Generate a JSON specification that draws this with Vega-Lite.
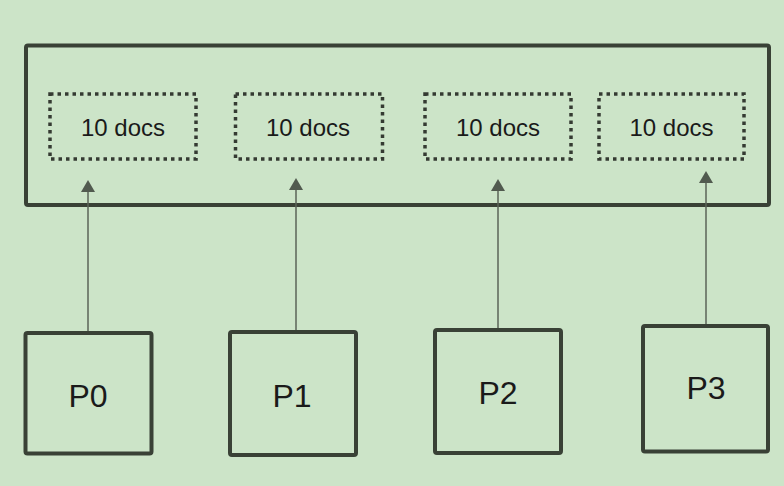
{
  "$schema": "https://vega.github.io/schema/vega-lite/v6.json",
  "description": "Four partitions each sending 10 docs into one result set",
  "width": 784,
  "height": 486,
  "autosize": {"type": "none"},
  "padding": 0,
  "background": "#cce4c8",
  "config": {"view": {"stroke": null}},
  "datasets": {
    "outer": [{"x": 26, "x2": 769, "y": 45.5, "y2": 205}],
    "slots": [
      {"x": 50, "x2": 196, "y": 94, "y2": 159, "cx": 123, "label": "10 docs"},
      {"x": 235.5, "x2": 382.5, "y": 94, "y2": 159, "cx": 308, "label": "10 docs"},
      {"x": 425, "x2": 571, "y": 94, "y2": 159, "cx": 498, "label": "10 docs"},
      {"x": 599, "x2": 744, "y": 94, "y2": 159, "cx": 671.5, "label": "10 docs"}
    ],
    "parts": [
      {"x": 25.5, "x2": 151.5, "y": 333, "y2": 453.5, "cx": 88, "base": 407, "label": "P0"},
      {"x": 230, "x2": 356, "y": 332, "y2": 455, "cx": 292, "base": 407, "label": "P1"},
      {"x": 435, "x2": 561, "y": 330, "y2": 453, "cx": 498, "base": 404, "label": "P2"},
      {"x": 643, "x2": 768, "y": 326, "y2": 451.5, "cx": 706, "base": 399, "label": "P3"}
    ],
    "arrows": [
      {"x": 88, "from": 331, "head": 186},
      {"x": 296, "from": 330, "head": 184},
      {"x": 498, "from": 328, "head": 185},
      {"x": 706, "from": 324, "head": 177}
    ]
  },
  "layer": [
    {
      "data": {"name": "outer"},
      "mark": {"type": "rect", "fill": null, "stroke": "#394136", "strokeWidth": 4, "cornerRadius": 2},
      "encoding": {
        "x": {"field": "x", "type": "quantitative", "scale": {"domain": [0, 784], "nice": false, "zero": false}, "axis": null},
        "x2": {"field": "x2"},
        "y": {"field": "y", "type": "quantitative", "scale": {"domain": [0, 486], "nice": false, "zero": false, "reverse": true}, "axis": null},
        "y2": {"field": "y2"}
      }
    },
    {
      "data": {"name": "slots"},
      "mark": {"type": "rect", "fill": null, "stroke": "#343a32", "strokeWidth": 3.5, "strokeDash": [3.5, 4]},
      "encoding": {
        "x": {"field": "x", "type": "quantitative"},
        "x2": {"field": "x2"},
        "y": {"field": "y", "type": "quantitative"},
        "y2": {"field": "y2"}
      }
    },
    {
      "data": {"name": "slots"},
      "mark": {"type": "text", "font": "Liberation Sans", "fontSize": 24, "color": "#1a1a1a", "align": "center", "baseline": "alphabetic"},
      "encoding": {
        "x": {"field": "cx", "type": "quantitative"},
        "y": {"datum": 136, "type": "quantitative"},
        "text": {"field": "label"}
      }
    },
    {
      "data": {"name": "parts"},
      "mark": {"type": "rect", "fill": null, "stroke": "#394136", "strokeWidth": 4, "cornerRadius": 2},
      "encoding": {
        "x": {"field": "x", "type": "quantitative"},
        "x2": {"field": "x2"},
        "y": {"field": "y", "type": "quantitative"},
        "y2": {"field": "y2"}
      }
    },
    {
      "data": {"name": "parts"},
      "mark": {"type": "text", "font": "Liberation Sans", "fontSize": 32, "color": "#1a1a1a", "align": "center", "baseline": "alphabetic"},
      "encoding": {
        "x": {"field": "cx", "type": "quantitative"},
        "y": {"field": "base", "type": "quantitative"},
        "text": {"field": "label"}
      }
    },
    {
      "data": {"name": "arrows"},
      "mark": {"type": "rule", "color": "#5b6459", "strokeWidth": 1.5},
      "encoding": {
        "x": {"field": "x", "type": "quantitative"},
        "y": {"field": "from", "type": "quantitative"},
        "y2": {"field": "head"}
      }
    },
    {
      "data": {"name": "arrows"},
      "mark": {"type": "point", "shape": "triangle-up", "filled": true, "size": 196, "color": "#515a4f", "opacity": 1, "strokeWidth": 0},
      "encoding": {
        "x": {"field": "x", "type": "quantitative"},
        "y": {"field": "head", "type": "quantitative"}
      }
    }
  ]
}
